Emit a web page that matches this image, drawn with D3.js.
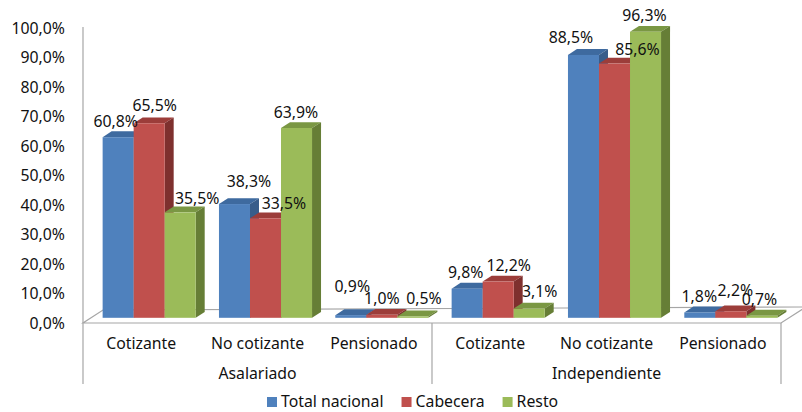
<!DOCTYPE html>
<html>
<head>
<meta charset="utf-8">
<script src="https://cdn.jsdelivr.net/npm/d3@7"></script>
<style>
  body { margin: 0; background: #fff; }
  text { font-family: "Noto Sans", sans-serif; fill: #111; }
</style>
</head>
<body>
<script>
// data
var groups = ["Asalariado", "Independiente"];
var subCategories = ["Cotizante", "No cotizante", "Pensionado"];
var seriesNames = ["Total nacional", "Cabecera", "Resto"];
var totalNacional = [60.8, 38.3, 0.9, 9.8, 88.5, 1.8];
var cabecera = [65.5, 33.5, 1.0, 12.2, 85.6, 2.2];
var resto = [35.5, 63.9, 0.5, 3.1, 96.3, 0.7];
var yTicks = [0, 10, 20, 30, 40, 50, 60, 70, 80, 90, 100];

// small nudges so the value labels sit where Excel put them
var labelNudge = [
    [[-7, 0], [10, -7], [-3, -13], [-6, 0], [-17, -1], [-5, 0]],
    [[1, -1.5], [14, 1.5], [-4.5, 0], [6, 0], [18.5, 2], [0, -5]],
    [[12.5, 2.4], [-5, 0], [6.5, -1.5], [6, -1.5], [-5.5, 0], [-7, 0]]
];

var values = [totalNacional, cabecera, resto];
var colors = [
    { front: "#4F81BD", top: "#3E6A9F", side: "#385D8A" },
    { front: "#C0504D", top: "#9C3D3A", side: "#7E302E" },
    { front: "#9BBB59", top: "#7A9743", side: "#667E36" }
];

var fontSize = "15.8px";
var width = 802, height = 412;
var svg = d3.select("body").append("svg")
    .attr("width", width)
    .attr("height", height);

// category index list (6 cells: 3 sub categories x 2 groups)
var cells = [];
groups.forEach(function (g, gi) {
    subCategories.forEach(function (s, si) {
        cells.push({ group: g, sub: s, index: gi * subCategories.length + si });
    });
});

var x0 = d3.scaleBand()
    .domain(cells.map(function (d) { return d.index; }))
    .range([83, 781])
    .paddingInner(0.2)
    .paddingOuter(0.1);

var x1 = d3.scaleBand()
    .domain(seriesNames)
    .range([0, x0.bandwidth()]);

var y = d3.scaleLinear().domain([0, 100]).range([323, 26]);
var yLabels = d3.scaleLinear().domain([0, 100]).range([323.3, 28.3]);

// 3d depth vector of the floor, bars sit from fa to fb of it
var depth = { dx: 20, dy: -13 };
var fa = 0.4, fb = 0.85;

// floor
var floorY = y(0);
svg.append("polygon")
    .attr("points", [
        [83, floorY],
        [781, floorY],
        [781 + depth.dx + 5, floorY + depth.dy - 3],
        [83 + depth.dx, floorY + depth.dy]
    ].map(function (p) { return p.join(","); }).join(" "))
    .attr("fill", "#fff")
    .attr("stroke", "#a6a6a6")
    .attr("stroke-width", 1.2);

// left axis line
svg.append("line")
    .attr("x1", 83).attr("x2", 83)
    .attr("y1", 27).attr("y2", floorY)
    .attr("stroke", "#a6a6a6")
    .attr("stroke-width", 1.2);

// y tick labels
var fmt = function (v) { return d3.format(".1f")(v).replace(".", ",") + "%"; };
svg.append("g").selectAll("text")
    .data(yTicks)
    .enter().append("text")
    .attr("x", 65)
    .attr("y", function (d) { return yLabels(d); })
    .attr("dy", "0.35em")
    .attr("text-anchor", "end")
    .style("font-size", fontSize)
    .text(fmt);

// bars
var bars = svg.append("g");
var labelData = [];
cells.forEach(function (c) {
    seriesNames.forEach(function (s, si) {
        var v = values[si][c.index];
        var col = colors[si];
        var xl = x0(c.index) + x1(s) + fa * depth.dx;
        var xr = xl + x1.bandwidth();
        var yb = y(0) + fa * depth.dy;
        var yt = y(v) + fa * depth.dy;
        var ddx = (fb - fa) * depth.dx, ddy = (fb - fa) * depth.dy;

        // top face
        bars.append("polygon")
            .attr("points", [[xl, yt], [xr, yt], [xr + ddx, yt + ddy], [xl + ddx, yt + ddy]].join(" "))
            .attr("fill", col.top);
        // side face
        bars.append("polygon")
            .attr("points", [[xr, yt], [xr + ddx, yt + ddy], [xr + ddx, yb + ddy], [xr, yb]].join(" "))
            .attr("fill", col.side);
        // front face
        bars.append("rect")
            .attr("x", xl)
            .attr("y", yt)
            .attr("width", xr - xl)
            .attr("height", yb - yt)
            .attr("fill", col.front);

        labelData.push({
            x: (xl + xr) / 2 + ddx / 2 + labelNudge[si][c.index][0],
            y: yt - 16 + labelNudge[si][c.index][1],
            text: fmt(v)
        });
    });
});

// value labels
svg.append("g").selectAll("text")
    .data(labelData)
    .enter().append("text")
    .attr("x", function (d) { return d.x; })
    .attr("y", function (d) { return d.y; })
    .attr("dy", "0.35em")
    .attr("text-anchor", "middle")
    .style("font-size", fontSize)
    .text(function (d) { return d.text; });

// category axis (two levels)
var catY = 343.5, groupY = 373.5;
svg.append("g").selectAll("text")
    .data(cells)
    .enter().append("text")
    .attr("x", function (d) { return x0(d.index) + x0.bandwidth() / 2; })
    .attr("y", catY)
    .attr("dy", "0.35em")
    .attr("text-anchor", "middle")
    .style("font-size", fontSize)
    .text(function (d) { return d.sub; });

var groupStep = x0.step() * subCategories.length;
svg.append("g").selectAll("text")
    .data(groups)
    .enter().append("text")
    .attr("x", function (d, i) { return 83 + groupStep * (i + 0.5); })
    .attr("y", groupY)
    .attr("dy", "0.35em")
    .attr("text-anchor", "middle")
    .style("font-size", fontSize)
    .text(function (d) { return d; });

svg.append("g").selectAll("line")
    .data(d3.range(groups.length + 1))
    .enter().append("line")
    .attr("x1", function (d) { return 83 + groupStep * d; })
    .attr("x2", function (d) { return 83 + groupStep * d; })
    .attr("y1", floorY)
    .attr("y2", 384)
    .attr("stroke", "#a6a6a6")
    .attr("stroke-width", 1.2);

// legend
var legend = svg.append("g");
var lx = 267, ly = 401;
seriesNames.forEach(function (s, i) {
    legend.append("rect")
        .attr("x", lx)
        .attr("y", ly - 4)
        .attr("width", 10)
        .attr("height", 10)
        .attr("fill", colors[i].front);
    var t = legend.append("text")
        .attr("x", lx + 14)
        .attr("y", ly)
        .attr("dy", "0.35em")
        .style("font-size", fontSize)
        .text(s);
    lx += 14 + t.node().getComputedTextLength() + 18;
});
</script>
</body>
</html>
